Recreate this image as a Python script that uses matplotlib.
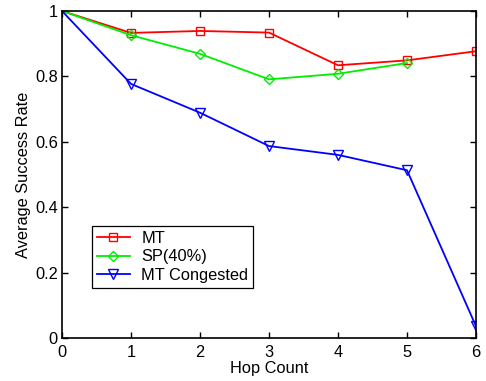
import numpy as np
import matplotlib
matplotlib.use("Agg")
import matplotlib.pyplot as plt

plt.rcParams['font.family'] = ['Liberation Sans', 'DejaVu Sans']

hops_mt = [0, 1, 2, 3, 4, 5, 6]
mt = [1.0, 0.933, 0.939, 0.934, 0.834, 0.849, 0.877]

hops_sp = [0, 1, 2, 3, 4, 5]
sp40 = [1.0, 0.926, 0.869, 0.791, 0.808, 0.841]

hops_cong = [0, 1, 2, 3, 4, 5, 6]
mt_congested = [1.0, 0.777, 0.689, 0.587, 0.560, 0.513, 0.036]

fig = plt.figure(figsize=(4.86, 3.81), dpi=100)
ax = fig.add_axes([62/486, 1-338/381, (476-62)/486, (338-11)/381])

# first point (0, 1) carries no marker
ax.plot(hops_mt, mt, color='#ff0000', lw=1.3, marker='s', ms=5.5,
        mfc='none', mew=1.0, markevery=range(1, len(mt)), label='MT')
ax.plot(hops_sp, sp40, color='#00ee00', lw=1.3, marker='D', ms=5.5,
        mfc='none', mew=1.0, markevery=range(1, len(sp40)), label='SP(40%)')
ax.plot(hops_cong, mt_congested, color='#0000ff', lw=1.3, marker='v', ms=7,
        mfc='none', mew=1.0, markevery=range(1, len(mt_congested)),
        label='MT Congested')

ax.set_xlim(0, 6)
ax.set_ylim(0, 1)
ax.set_xticks(range(7))
ax.set_yticks([0, 0.2, 0.4, 0.6, 0.8, 1])
ax.set_yticklabels(['0', '0.2', '0.4', '0.6', '0.8', '1'])
ax.tick_params(direction='in', top=True, right=True, labelsize=11.8,
               length=4, width=1.0)
ax.tick_params(axis='x', pad=5)
ax.tick_params(axis='y', pad=3)
for s in ax.spines.values():
    s.set_linewidth(1.2)

ax.set_xlabel('Hop Count', fontsize=11.8, labelpad=1)
ax.set_ylabel('Average Success Rate', fontsize=11.8, labelpad=3)

leg = ax.legend(loc='lower left', bbox_to_anchor=(30/414, 50/327), fontsize=11.8,
                fancybox=False, edgecolor='black', framealpha=1,
                handlelength=2.0, borderpad=0.3, labelspacing=0.22,
                handletextpad=0.7, borderaxespad=0)
leg.get_frame().set_linewidth(0.9)

fig.savefig('out.png', dpi=100)
